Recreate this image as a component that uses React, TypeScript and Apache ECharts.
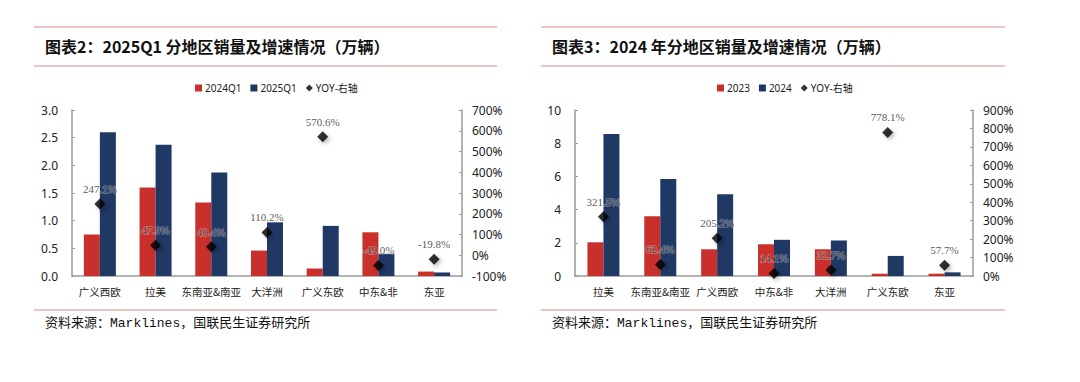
import React, { useEffect, useRef } from "react";
import * as echarts from "echarts";

// Chart 2: 2025Q1
const cats1 = ["广义西欧", "拉美", "东南亚&南亚", "大洋洲", "广义东欧", "中东&非", "东亚"];
const q2024 = [0.75, 1.6, 1.33, 0.46, 0.135, 0.79, 0.08];
const q2025 = [2.6, 2.37, 1.87, 0.97, 0.906, 0.4, 0.064];
const yoy1 = [247.1, 47.9, 40.4, 110.2, 570.6, -49.0, -19.8];

// Chart 3: 2024
const cats2 = ["拉美", "东南亚&南亚", "广义西欧", "中东&非", "大洋洲", "广义东欧", "东亚"];
const y2023 = [2.03, 3.6, 1.61, 1.91, 1.61, 0.138, 0.14];
const y2024 = [8.56, 5.85, 4.92, 2.18, 2.14, 1.21, 0.22];
const yoy2 = [321.5, 62.4, 205.2, 14.1, 32.7, 778.1, 57.7];

const RED = "#C9302C";
const BLUE = "#203864";
const AXIS = "#9a9a9a";
const SANS = "'Noto Sans', 'Noto Sans CJK SC', sans-serif";
const CJK = "'Noto Sans CJK SC', sans-serif";

export default function App() {
  const ref = useRef<HTMLDivElement>(null);
  useEffect(() => {
    if (!ref.current) return;
    const chart = echarts.init(ref.current, null, { renderer: "svg" });

    const valAxis = (gridIndex: number, min: number, max: number, interval: number, pos: "left" | "right", pct: boolean) => ({
      type: "value",
      gridIndex,
      position: pos,
      min,
      max,
      interval,
      axisLine: { show: true, lineStyle: { color: AXIS, width: 1.5 } },
      axisTick: { show: true, inside: true, length: 3, lineStyle: { color: AXIS } },
      splitLine: { show: false },
      axisLabel: {
        color: "#222",
        fontSize: 12,
        fontFamily: SANS,
        margin: pos === "left" ? 14 : 10,
        formatter: pct ? (v: number) => v + "%" : (v: number) => (interval < 1 ? v.toFixed(1) : String(v)),
      },
    });

    const catAxis = (gridIndex: number, data: string[]) => ({
      type: "category",
      gridIndex,
      data,
      axisLine: { show: true, lineStyle: { color: AXIS, width: 1.5 } },
      axisTick: { show: false },
      axisLabel: { color: "#222", fontSize: 10.5, fontFamily: CJK, margin: 10, interval: 0 },
    });

    const yoySeries = (xi: number, yi: number, data: number[]) => ({
      name: "YOY-右轴",
      type: "scatter",
      xAxisIndex: xi,
      yAxisIndex: yi,
      data,
      symbol: "diamond",
      symbolSize: 11,
      itemStyle: {
        color: "#000",
        shadowBlur: 4,
        shadowColor: "rgba(0,0,0,0.35)",
        shadowOffsetX: 2,
        shadowOffsetY: 2,
      },
      label: {
        show: true,
        position: "top",
        distance: 4,
        formatter: (p: any) => p.value.toFixed(1) + "%",
        fontFamily: "'Liberation Serif', 'Times New Roman', serif",
        fontSize: 11,
        color: "#2a2a2a",
        textBorderColor: "rgba(255,255,255,0.45)",
        textBorderWidth: 1.5,
      },
      z: 5,
    });

    const barSeries = (name: string, xi: number, yi: number, data: number[], color: string) => ({
      name,
      type: "bar",
      xAxisIndex: xi,
      yAxisIndex: yi,
      data,
      barWidth: 16,
      barGap: "0%",
      itemStyle: { color },
    });

    const legendCommon = {
      top: 78,
      itemWidth: 7,
      itemHeight: 7,
      itemGap: 9,
      textStyle: { fontSize: 10, color: "#222", fontFamily: SANS, padding: [0, 0, 0, -2] },
    };

    const line = (x1: number, x2: number, y: number) => ({
      type: "line",
      shape: { x1, y1: y, x2, y2: y },
      style: { stroke: "#E08A8A", lineWidth: 1.2 },
    });

    const txt = (x: number, y: number, text: string, font: any) => ({
      type: "text",
      x,
      y,
      style: { text, ...font, fill: "#111", textVerticalAlign: "middle" },
    });

    const titleFont = { fontSize: 16, fontWeight: "bold", fontFamily: CJK };
    const srcFont = { fontSize: 13, fontFamily: "'Liberation Mono', 'Noto Sans CJK SC', monospace" };

    chart.setOption({
      animation: false,
      backgroundColor: "#fff",
      legend: [
        {
          ...legendCommon,
          left: 190,
          data: [
            { name: "2024Q1", icon: "rect" },
            { name: "2025Q1", icon: "rect" },
            { name: "YOY-右轴", icon: "diamond" },
          ],
        },
        {
          ...legendCommon,
          left: 712,
          data: [
            { name: "2023", icon: "rect" },
            { name: "2024", icon: "rect" },
            { name: "YOY-右轴", icon: "diamond" },
          ],
        },
      ],
      grid: [
        { left: 72, right: 618, top: 110, bottom: 106 },
        { left: 575, right: 107, top: 110, bottom: 106 },
      ],
      xAxis: [catAxis(0, cats1), catAxis(1, cats2)],
      yAxis: [
        valAxis(0, 0, 3, 0.5, "left", false),
        valAxis(0, -100, 700, 100, "right", true),
        valAxis(1, 0, 10, 2, "left", false),
        valAxis(1, 0, 900, 100, "right", true),
      ],
      series: [
        barSeries("2024Q1", 0, 0, q2024, RED),
        barSeries("2025Q1", 0, 0, q2025, BLUE),
        yoySeries(0, 1, yoy1),
        barSeries("2023", 1, 2, y2023, RED),
        barSeries("2024", 1, 2, y2024, BLUE),
        yoySeries(1, 3, yoy2),
      ],
      graphic: [
        line(34, 497, 27),
        line(34, 497, 66),
        line(34, 497, 310),
        line(541, 1005, 27),
        line(541, 1005, 66),
        line(541, 1005, 310),
        txt(45, 46, "图表2：2025Q1 分地区销量及增速情况（万辆）", titleFont),
        txt(552, 46, "图表3：2024 年分地区销量及增速情况（万辆）", titleFont),
        txt(45, 323, "资料来源：Marklines，国联民生证券研究所", srcFont),
        txt(552, 323, "资料来源：Marklines，国联民生证券研究所", srcFont),
      ],
    });
    return () => chart.dispose();
  }, []);
  return <div ref={ref} style={{ position: "fixed", left: 0, top: 0, width: 1080, height: 382 }} />;
}
